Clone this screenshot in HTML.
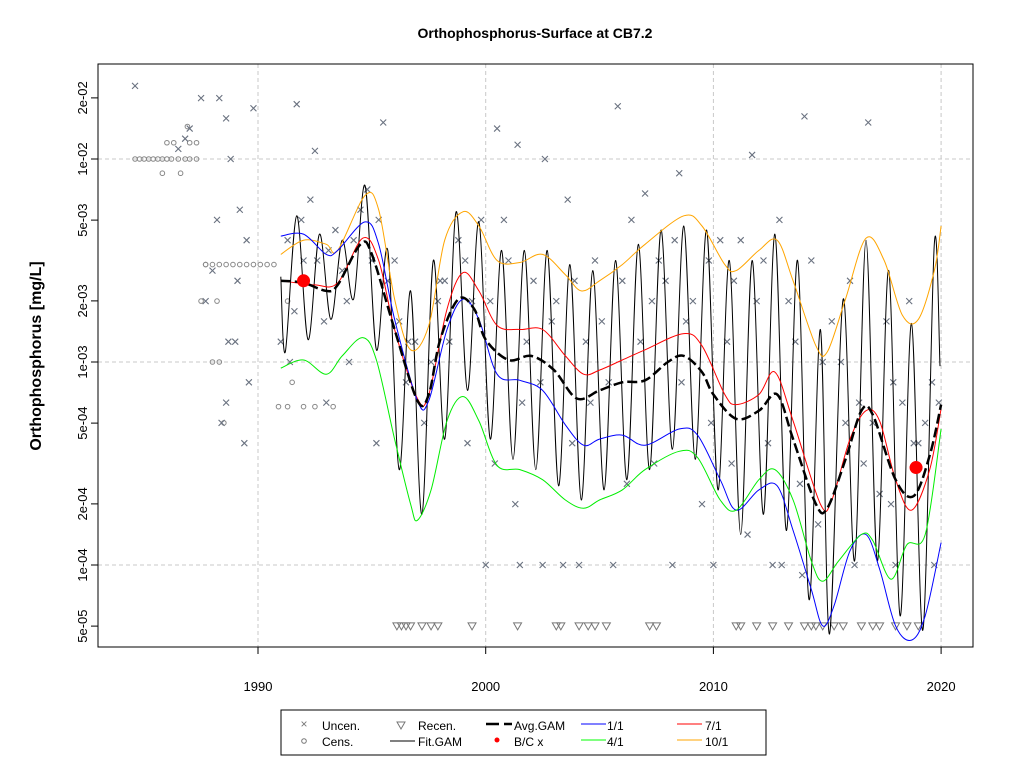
<!DOCTYPE html>
<html><head><meta charset="utf-8"><style>
html,body{margin:0;padding:0;background:#fff;}
svg{display:block;font-family:"Liberation Sans",Arial,sans-serif;}
</style></head><body>
<svg id="chart" width="1024" height="768" viewBox="0 0 1024 768">
<text x="535" y="38" text-anchor="middle" font-size="14" font-weight="bold">Orthophosphorus-Surface at CB7.2</text>
<text transform="translate(41,356) rotate(-90)" text-anchor="middle" font-size="16" font-weight="bold">Orthophosphorus [mg/L]</text>
<g id="grid"></g>
<g id="marks"></g>
<rect x="98" y="64" width="875" height="583" fill="none" stroke="#000"/>
<g id="axes"></g>
<g id="legend">
<rect x="281" y="710" width="485" height="45" fill="#fff" stroke="#000"/>
<text x="304" y="728" font-size="12" fill="#777" text-anchor="middle">×</text>
<text x="322" y="730" font-size="12">Uncen.</text>
<circle cx="304" cy="741" r="2.3" fill="none" stroke="#777"/>
<text x="322" y="746" font-size="12">Cens.</text>
<path d="M397,722 L405,722 L401,729 Z" fill="none" stroke="#777"/>
<text x="418" y="730" font-size="12">Recen.</text>
<line x1="390" y1="741" x2="415" y2="741" stroke="#000"/>
<text x="418" y="746" font-size="12">Fit.GAM</text>
<line x1="486" y1="724" x2="512" y2="724" stroke="#000" stroke-width="2.5" stroke-dasharray="13,5"/>
<text x="514" y="730" font-size="12">Avg.GAM</text>
<circle cx="497" cy="740" r="2.5" fill="#f00"/>
<text x="514" y="746" font-size="12">B/C x</text>
<line x1="581" y1="724" x2="606" y2="724" stroke="#00f"/>
<text x="607" y="730" font-size="12">1/1</text>
<line x1="581" y1="740" x2="606" y2="740" stroke="#0f0"/>
<text x="607" y="746" font-size="12">4/1</text>
<line x1="677" y1="724" x2="702" y2="724" stroke="#f00"/>
<text x="705" y="730" font-size="12">7/1</text>
<line x1="677" y1="740" x2="702" y2="740" stroke="#ffa500"/>
<text x="705" y="746" font-size="12">10/1</text>
</g>
</svg>
<script>
// ---- data (values are log10 of concentration, mg/L) ----
const xTicks = [1990, 2000, 2010, 2020];
const yTickLabels = ["5e-05","1e-04","2e-04","5e-04","1e-03","2e-03","5e-03","1e-02","2e-02"];
const yTickValues = [5e-5,1e-4,2e-4,5e-4,1e-3,2e-3,5e-3,1e-2,2e-2];
const yGridValues = [1e-4,1e-3,1e-2];

const avgYears = [1991,1992,1993,1993.5,1994.5,1995,1996,1997,1997.5,1998,1998.8,1999.5,2000,2001,2002,2003,2004,2005,2006,2007,2008,2008.7,2009.5,2010,2011,2012,2012.8,2013.5,2014.5,2015,2015.8,2016.5,2017,2018,2018.8,2019.5,2020];
const avgLog = [-2.60,-2.61,-2.65,-2.62,-2.42,-2.47,-2.84,-3.19,-3.16,-2.89,-2.69,-2.74,-2.89,-2.99,-2.97,-3.04,-3.18,-3.14,-3.10,-3.09,-3.0,-2.97,-3.05,-3.16,-3.28,-3.24,-3.16,-3.38,-3.70,-3.72,-3.48,-3.24,-3.26,-3.58,-3.66,-3.46,-3.21];

const orangeYears = [1991,1992,1993,1993.5,1994.7,1995.3,1996,1996.7,1997.5,1998.2,1999,1999.7,2000.5,2001.5,2002.5,2003.5,2004.2,2005,2006,2007,2008.7,2009.5,2010.5,2011,2012,2012.8,2013.5,2014.5,2015,2015.8,2016.7,2017.5,2018.3,2019,2019.7,2020];
const orangeLog = [-2.47,-2.40,-2.42,-2.45,-2.18,-2.25,-2.69,-2.94,-2.82,-2.40,-2.26,-2.33,-2.50,-2.51,-2.47,-2.57,-2.65,-2.60,-2.52,-2.42,-2.28,-2.33,-2.52,-2.55,-2.45,-2.40,-2.60,-2.92,-2.95,-2.69,-2.39,-2.50,-2.77,-2.79,-2.55,-2.33];

const redYears = [1991,1992.5,1993.5,1994.6,1995.3,1996,1997,1997.5,1998.3,1999,1999.7,2000.5,2001.5,2002.5,2003.5,2004.3,2005,2006,2007,2008.7,2009.5,2010.5,2011,2012,2012.7,2013.5,2014.7,2015.2,2016,2016.7,2017.3,2018,2018.7,2019.5,2020];
const redLog = [-2.60,-2.62,-2.61,-2.39,-2.50,-2.84,-3.18,-3.16,-2.74,-2.56,-2.65,-2.82,-2.84,-2.84,-2.97,-3.06,-3.04,-2.99,-2.94,-2.86,-2.92,-3.16,-3.21,-3.16,-3.05,-3.29,-3.70,-3.68,-3.38,-3.24,-3.29,-3.58,-3.73,-3.53,-3.23];

const blueYears = [1991,1992,1993,1993.5,1994.7,1995.3,1996,1997,1997.5,1998.3,1999,1999.7,2000.5,2001.5,2002.5,2003.5,2004.3,2005,2006,2007,2008.5,2009.3,2010.3,2011,2012,2012.8,2013.5,2014.3,2014.8,2015.3,2016,2016.7,2017.3,2018,2018.7,2019.3,2020];
const blueLog = [-2.38,-2.37,-2.47,-2.45,-2.31,-2.42,-2.79,-3.19,-3.19,-2.84,-2.69,-2.79,-3.06,-3.09,-3.14,-3.31,-3.41,-3.38,-3.36,-3.41,-3.33,-3.36,-3.58,-3.73,-3.63,-3.61,-3.83,-4.12,-4.30,-4.20,-3.93,-3.85,-4.02,-4.30,-4.37,-4.25,-3.89];

const greenYears = [1991,1992,1993,1993.7,1994.6,1995.2,1996,1996.7,1997,1997.6,1998.3,1999,1999.7,2000.5,2001.5,2002.5,2003.5,2004.3,2005,2006,2007,2008.5,2009.3,2010.3,2011,2012,2012.7,2013.5,2014.3,2014.8,2015.5,2016.5,2017,2017.8,2018.5,2019.3,2020];
const greenLog = [-3.03,-2.99,-3.06,-2.97,-2.88,-2.99,-3.38,-3.70,-3.78,-3.63,-3.29,-3.17,-3.29,-3.51,-3.53,-3.58,-3.68,-3.72,-3.68,-3.63,-3.53,-3.44,-3.47,-3.68,-3.73,-3.58,-3.53,-3.68,-3.98,-4.08,-3.98,-3.85,-3.88,-4.07,-3.90,-3.85,-3.33];

const fitPeakYears = [1991.7,1992.7,1993.7,1994.7,1995.7,1996.7,1997.7,1998.7,1999.7,2000.7,2001.7,2002.7,2003.7,2004.7,2005.7,2006.7,2007.7,2008.7,2009.7,2010.7,2011.7,2012.7,2013.7,2014.7,2015.7,2016.7,2017.7,2018.7,2019.7];
const fitPeakLog = [-2.28,-2.37,-2.40,-2.13,-2.45,-2.65,-2.50,-2.26,-2.31,-2.45,-2.45,-2.45,-2.52,-2.55,-2.50,-2.42,-2.35,-2.33,-2.35,-2.50,-2.50,-2.37,-2.50,-2.84,-2.69,-2.40,-2.55,-2.81,-2.42];
const fitTroughYears = [1991.2,1992.2,1993.2,1994.2,1995.2,1996.2,1997.2,1998.2,1999.2,2000.2,2001.2,2002.2,2003.2,2004.2,2005.2,2006.2,2007.2,2008.2,2009.2,2010.2,2011.2,2012.2,2013.2,2014.2,2015.1,2016.2,2017.2,2018.2,2019.2];
const fitTroughLog = [-2.95,-2.89,-2.79,-2.69,-2.94,-3.53,-3.75,-3.38,-3.14,-3.38,-3.48,-3.53,-3.61,-3.68,-3.63,-3.58,-3.53,-3.43,-3.48,-3.63,-3.85,-3.75,-3.83,-4.17,-4.34,-3.98,-3.98,-4.25,-4.32];
const fitEndYear = 2019.95, fitEndLog = -3.02;

const uncenYears = [1984.6,1987.5,1988.3,1989.8,1988.6,1988.8,1988.2,1989.2,1989.5,1988.7,1989.0,1988.4,1988.6,1989.4,1989.1,1988.0,1987.7,1989.6,1986.5,1987.0,1986.8,
1991.7,1992.5,1995.5,2000.5,2001.4,2002.6,2005.8,2007.0,2008.5,2011.7,2014.0,2016.8,2000.0,2001.5,2002.5,2003.4,2004.1,2005.6,2008.2,2010.0,2012.6,2013.0,2016.2,2018.0,2019.7,2001.3,2009.5,2011.5,2013.9,2014.6,2017.3,
1991.0,1991.3,1991.6,1991.9,1992.1,1992.3,1992.6,1992.9,1993.1,1993.4,1993.7,1993.9,1994.2,1994.5,1994.8,1995.0,1995.3,1995.7,1996.0,1996.2,1996.5,1996.9,1997.3,1997.6,1997.9,1998.2,1998.4,1998.8,1999.1,1999.4,1999.8,2000.2,2000.8,2001.0,2001.8,2002.1,2002.9,2003.1,2003.6,2003.9,2004.4,2004.8,2005.1,2005.4,2006.0,2006.4,2006.8,2007.3,2007.6,2007.9,2008.3,2008.8,2009.1,2009.8,2010.3,2010.6,2010.9,2011.2,2011.9,2012.2,2012.9,2013.3,2013.6,2014.3,2014.8,2015.2,2015.6,2016.0,2016.4,2017.0,2017.6,2017.9,2018.3,2018.6,2019.0,2019.3,2019.6,2019.9,
1991.4,1992.0,1993.0,1994.0,1995.2,1996.6,1998.0,1999.2,2000.4,2001.6,2002.4,2003.8,2004.6,2006.2,2007.4,2008.6,2009.9,2010.8,2012.4,2013.8,2015.8,2016.6,2017.8,2018.8];
const uncenLog = [-1.64,-1.70,-1.70,-1.75,-1.80,-2.0,-2.30,-2.25,-2.40,-2.90,-2.90,-3.30,-3.20,-3.40,-2.60,-2.55,-2.70,-3.10,-1.95,-1.85,-1.90,
-1.73,-1.96,-1.82,-1.85,-1.93,-2.0,-1.74,-2.17,-2.07,-1.98,-1.79,-1.82,-4.0,-4.0,-4.0,-4.0,-4.0,-4.0,-4.0,-4.0,-4.0,-4.0,-4.0,-4.0,-4.0,-3.70,-3.70,-3.85,-4.05,-3.80,-3.65,
-2.90,-2.40,-2.75,-2.30,-2.60,-2.20,-2.50,-2.80,-2.45,-2.35,-2.55,-2.70,-2.40,-2.25,-2.15,-2.50,-2.30,-2.60,-2.50,-2.80,-3.10,-2.90,-3.30,-3.00,-2.70,-2.60,-2.90,-2.40,-2.50,-2.70,-2.30,-2.70,-2.30,-2.50,-2.90,-2.60,-2.80,-2.70,-2.20,-2.60,-2.90,-2.50,-2.80,-3.10,-2.60,-2.30,-2.90,-2.70,-2.50,-2.60,-2.40,-2.80,-2.70,-2.50,-2.40,-2.90,-2.60,-2.40,-2.70,-2.50,-2.30,-2.70,-2.90,-2.50,-3.00,-2.80,-3.00,-2.60,-3.20,-3.30,-2.80,-3.10,-3.20,-2.70,-3.40,-3.30,-3.10,-3.20,-3.00,-2.50,
-3.20,-3.00,-3.40,-2.90,-2.60,-3.40,-3.50,-3.20,-3.10,-3.40,-3.20,-3.60,-3.50,-3.10,-3.30,-3.50,-3.40,-3.60,-3.30,-3.50,-3.70,-3.40,-3.60,-3.70];

const censYears = [1984.6,1984.8,1985.0,1985.2,1985.4,1985.6,1985.8,1986.0,1986.2,1986.5,1986.8,1987.0,1987.3,1986.0,1986.3,1987.0,1987.3,1985.8,1986.6,1986.9,1987.7,1988.0,1988.3,1988.6,1988.9,1989.2,1989.5,1989.8,1990.1,1990.4,1990.7,1987.5,1988.2,1988.0,1988.3,1988.5,1990.9,1991.3,1992.0,1992.5,1993.3,1991.5,1991.3,1987.7];
const censLog = [-2.0,-2.0,-2.0,-2.0,-2.0,-2.0,-2.0,-2.0,-2.0,-2.0,-2.0,-2.0,-2.0,-1.92,-1.92,-1.92,-1.92,-2.07,-2.07,-1.84,-2.52,-2.52,-2.52,-2.52,-2.52,-2.52,-2.52,-2.52,-2.52,-2.52,-2.52,-2.70,-2.70,-3.0,-3.0,-3.3,-3.22,-3.22,-3.22,-3.22,-3.22,-3.10,-2.70,-2.52];

const recenYears = [1996.1,1996.3,1996.5,1996.7,1997.2,1997.6,1997.9,1999.4,2001.4,2003.1,2003.3,2004.1,2004.5,2004.8,2005.3,2007.2,2007.5,2011.0,2011.2,2011.9,2012.6,2013.3,2014.0,2014.3,2014.5,2014.8,2015.3,2015.7,2016.5,2017.0,2017.3,2018.0,2018.5,2019.0];
const recenLog = [-4.3,-4.3,-4.3,-4.3,-4.3,-4.3,-4.3,-4.3,-4.3,-4.3,-4.3,-4.3,-4.3,-4.3,-4.3,-4.3,-4.3,-4.3,-4.3,-4.3,-4.3,-4.3,-4.3,-4.3,-4.3,-4.3,-4.3,-4.3,-4.3,-4.3,-4.3,-4.3,-4.3,-4.3];

const bcYears = [1992.0, 2018.9];
const bcLog = [-2.60, -3.52];

// ---- scales ----
const NS = "http://www.w3.org/2000/svg";
function xs(yr){ return 258 + (yr - 1990) * 22.77; }
function ys(lg){ return 362 - (lg + 3) * 203; }
function el(tag, attrs, parent){ const e = document.createElementNS(NS, tag); for (const k in attrs) e.setAttribute(k, attrs[k]); parent.appendChild(e); return e; }
function smooth(pts){
  let d = "M" + pts[0][0].toFixed(1) + "," + pts[0][1].toFixed(1);
  for (let i = 0; i < pts.length - 1; i++){
    const p0 = pts[i-1] || pts[i], p1 = pts[i], p2 = pts[i+1], p3 = pts[i+2] || p2;
    const c1x = p1[0] + (p2[0]-p0[0])/6, c1y = p1[1] + (p2[1]-p0[1])/6;
    const c2x = p2[0] - (p3[0]-p1[0])/6, c2y = p2[1] - (p3[1]-p1[1])/6;
    d += " C" + c1x.toFixed(1)+","+c1y.toFixed(1)+" "+c2x.toFixed(1)+","+c2y.toFixed(1)+" "+p2[0].toFixed(1)+","+p2[1].toFixed(1);
  }
  return d;
}
const grid = document.getElementById("grid"), marks = document.getElementById("marks"), axes = document.getElementById("axes");

xTicks.forEach(t => {
  const g = el("line", {x1: xs(t), x2: xs(t), y1: 64, y2: 647, stroke: "#c8c8c8", "stroke-dasharray": "4,3"}, grid);
  
  
  const tk = el("line", {x1: xs(t), x2: xs(t), y1: 647, y2: 654, stroke: "#000"}, axes);
  
  
  const tx = el("text", {x: xs(t), y: 691, "text-anchor": "middle", "font-size": 13}, axes);
  tx.textContent = t;
  
  
});
yGridValues.forEach(v => {
  const g = el("line", {x1: 98, x2: 973, y1: ys(Math.log10(v)), y2: ys(Math.log10(v)), stroke: "#c8c8c8", "stroke-dasharray": "4,3"}, grid);
  
  
});
yTickValues.forEach((v, i) => {
  const y = ys(Math.log10(v));
  const tk = el("line", {x1: 91, x2: 98, y1: y, y2: y, stroke: "#000"}, axes);
  
  
  const tx = el("text", {transform: "translate(87," + y + ") rotate(-90)", "text-anchor": "middle", "font-size": 13}, axes);
  tx.textContent = yTickLabels[i];
  
  
});

// scatter: cens
censYears.forEach((yr, i) => {
  const c = el("circle", {cx: xs(yr), cy: ys(censLog[i]), r: 2.3, fill: "none", stroke: "#888"}, marks);
  
  
});
// uncen
uncenYears.forEach((yr, i) => {
  const x = xs(yr), y = ys(uncenLog[i]);
  const p = el("path", {d: `M${x-3},${y-3}L${x+3},${y+3}M${x-3},${y+3}L${x+3},${y-3}`, stroke: "#6a7280", "stroke-width": 1.1}, marks);
  
  
});
// recen
recenYears.forEach((yr, i) => {
  const x = xs(yr), y = ys(recenLog[i]);
  const p = el("path", {d: `M${x-4},${y-3}L${x+4},${y-3}L${x},${y+4}Z`, fill: "none", stroke: "#777"}, marks);
  
  
});

// fit GAM (alternating troughs / peaks)
const fitPts = [];
for (let i = 0; i < fitTroughYears.length; i++){
  fitPts.push([xs(fitTroughYears[i]), ys(fitTroughLog[i])]);
  fitPts.push([xs(fitPeakYears[i]), ys(fitPeakLog[i])]);
}
fitPts.unshift([xs(1991.0), ys(fitPeakLog[0] - 0.3)]);
fitPts.push([xs(fitEndYear), ys(fitEndLog)]);
const fit = el("path", {d: smooth(fitPts), fill: "none", stroke: "#000", "stroke-width": 1}, marks);



function curve(years, logs, color, w, name, dash){
  const pts = years.map((yr, i) => [xs(yr), ys(logs[i])]);
  const a = {d: smooth(pts), fill: "none", stroke: color, "stroke-width": w};
  if (dash) a["stroke-dasharray"] = dash;
  const p = el("path", a, marks);
  
  
}
curve(orangeYears, orangeLog, "#ffa500", 1, "line-10-1");
curve(redYears, redLog, "#ff0000", 1, "line-7-1");
curve(blueYears, blueLog, "#0000ff", 1, "line-1-1");
curve(greenYears, greenLog, "#00ee00", 1, "line-4-1");
curve(avgYears, avgLog, "#000", 2.5, "avg-gam-line", "10,4");

bcYears.forEach((yr, i) => {
  const c = el("circle", {cx: xs(yr), cy: ys(bcLog[i]), r: 6.5, fill: "#ff0000"}, marks);
  
  
});
</script>
</body></html>
